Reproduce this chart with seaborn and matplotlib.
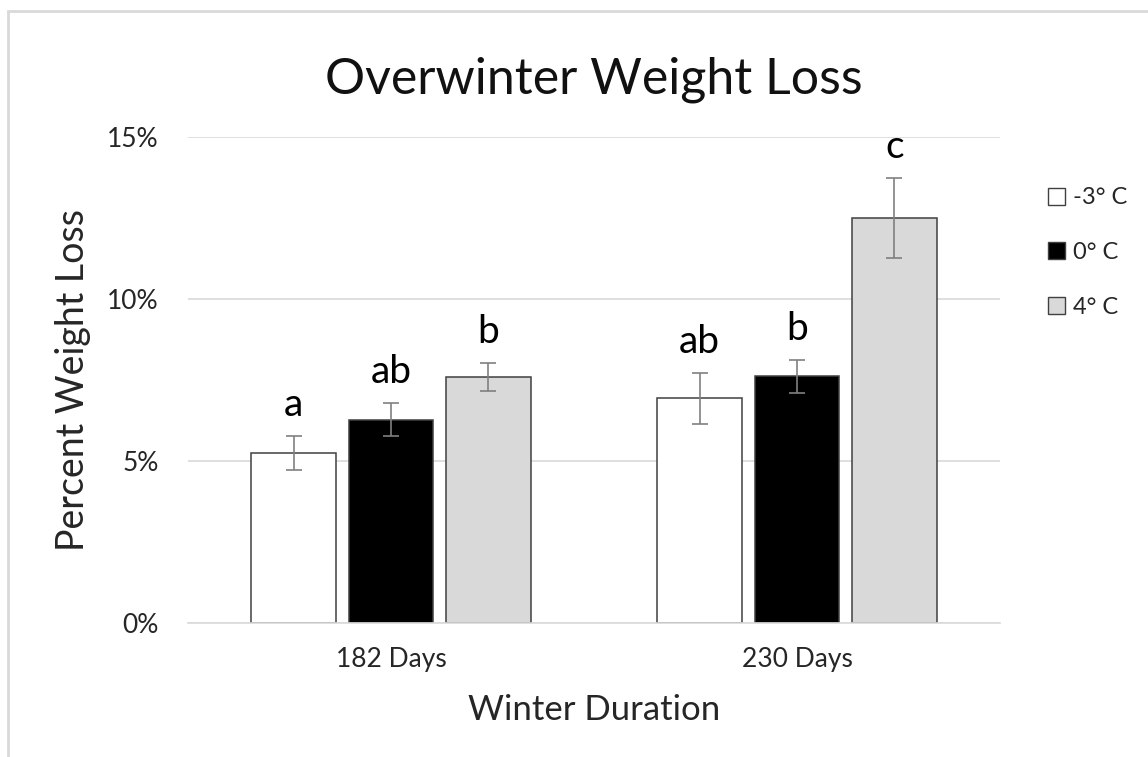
import numpy as np
import pandas as pd
import matplotlib
matplotlib.use("Agg")
import matplotlib.pyplot as plt
import seaborn as sns
from matplotlib.patches import Patch, Rectangle
from matplotlib.ticker import PercentFormatter

durations = ["182 Days", "230 Days"]
temps = ["-3\u00b0 C", "0\u00b0 C", "4\u00b0 C"]
# mean weight loss (fraction) per duration, one list per temperature
loss_m3 = [0.0524, 0.0693]
loss_0 = [0.0627, 0.0761]
loss_4 = [0.0759, 0.1250]
# standard errors
se_m3 = [0.0053, 0.0078]
se_0 = [0.0051, 0.0051]
se_4 = [0.0044, 0.0124]
# significance letters
letters_m3 = ["a", "ab"]
letters_0 = ["ab", "b"]
letters_4 = ["b", "c"]

colors = ["#ffffff", "#000000", "#d9d9d9"]

rows = []
for t, vals, errs, lets in zip(temps, [loss_m3, loss_0, loss_4],
                               [se_m3, se_0, se_4],
                               [letters_m3, letters_0, letters_4]):
    for d, v, e, l in zip(durations, vals, errs, lets):
        rows.append({"Duration": d, "Temp": t, "Loss": v, "SE": e, "Letter": l})
df = pd.DataFrame(rows)

sns.set_style("white")
plt.rcParams["font.family"] = ["Lato", "DejaVu Sans"]

fig = plt.figure(figsize=(11.48, 7.57), dpi=100)
ax = fig.add_axes([0.1638, 0.177, 0.7072, 0.642])

sns.barplot(data=df, x="Duration", y="Loss", hue="Temp", order=durations,
            hue_order=temps, palette=colors, width=0.72, gap=0.13,
            edgecolor="#404040", linewidth=1.1, errorbar=None, legend=False,
            ax=ax)

# error bars + letters, matched to bars by x position
bars = sorted(ax.patches, key=lambda p: p.get_x())
ordered = df.set_index(["Duration", "Temp"]).loc[
    [(d, t) for d in durations for t in temps]].reset_index()
for p, (_, r) in zip(bars, ordered.iterrows()):
    xc = p.get_x() + p.get_width() / 2
    ax.errorbar(xc, r["Loss"], yerr=r["SE"], fmt="none", ecolor="#808080",
                elinewidth=1.2, capsize=6, capthick=1.2, zorder=3)
    ax.text(xc, r["Loss"] + r["SE"] + 0.0062, r["Letter"], ha="center",
            va="baseline", fontsize=28, color="black")

ax.set_ylim(0, 0.15)
ax.set_xlim(-0.5, 1.5)
ax.set_yticks([0, 0.05, 0.10, 0.15])
ax.yaxis.set_major_formatter(PercentFormatter(1.0, decimals=0))
ax.grid(axis="y", color="#d9d9d9", linewidth=1.2)
ax.set_axisbelow(True)
for s in ["top", "right", "left"]:
    ax.spines[s].set_visible(False)
ax.spines["bottom"].set_color("#d9d9d9")
ax.spines["bottom"].set_linewidth(1.2)
ax.tick_params(axis="both", length=0, labelsize=19)
ax.tick_params(axis="x", pad=17)
ax.tick_params(axis="y", pad=21)
for lab in ax.get_xticklabels() + ax.get_yticklabels():
    lab.set_color("#262626")

ax.set_xlabel("Winter Duration", fontsize=25, color="#262626", labelpad=16)
ax.set_ylabel("Percent Weight Loss", fontsize=27, color="#262626", labelpad=12)
fig.text(0.517, 0.895, "Overwinter Weight Loss", ha="center", va="center",
         fontsize=36, color="#111111")

handles = [Patch(facecolor=c, edgecolor="#404040", linewidth=1.0) for c in colors]
ax.legend(handles, temps, loc="upper left", bbox_to_anchor=(1.0475, 0.9156),
          frameon=False, fontsize=17, handlelength=0.72, handleheight=0.72,
          handletextpad=0.35, labelspacing=1.42, borderaxespad=0)

fig.patches.append(Rectangle((8 / 1148, -0.05), 1.2, 1 - 11 / 757 + 0.05,
                             transform=fig.transFigure, fill=False,
                             edgecolor="#d9d9d9", linewidth=2))

fig.savefig("out.png", dpi=100)
